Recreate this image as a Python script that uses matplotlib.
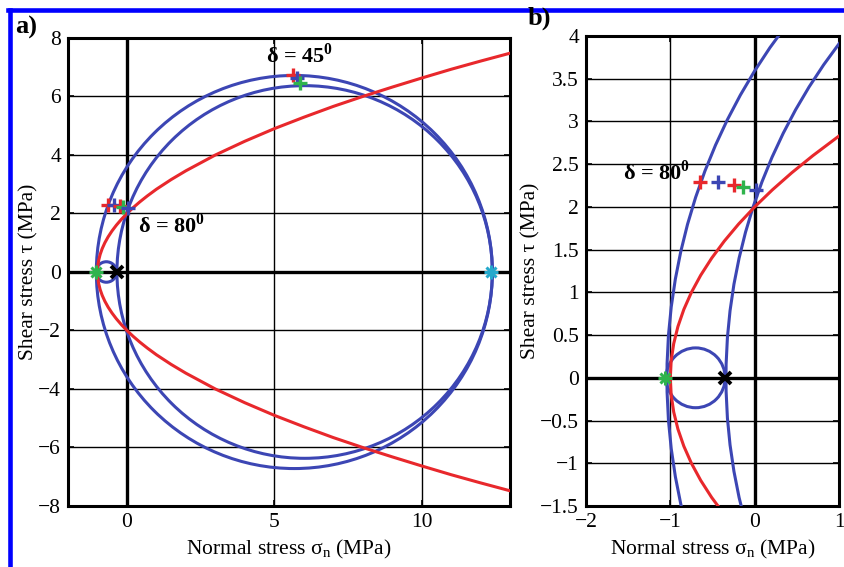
import matplotlib as mpl
mpl.use('Agg')
import matplotlib.pyplot as plt
from matplotlib.patches import Circle
from matplotlib.lines import Line2D

# style
mpl.rcParams['font.family'] = ['Liberation Serif', 'DejaVu Serif']
mpl.rcParams['mathtext.fontset'] = 'custom'
mpl.rcParams['mathtext.rm'] = 'Liberation Serif'
mpl.rcParams['mathtext.bf'] = 'Liberation Serif:bold'
mpl.rcParams['font.size'] = 15.5

BLUE = '#3c46b4'
RED = '#e8282c'
GREEN = '#2fb34c'
CYAN = '#25a9cc'

# Mohr circles, given by their end points on the sigma axis (MPa)
mohr_sigma3 = [-1.04, -0.34, -1.05]
mohr_sigma1 = [12.4, 12.4, -0.35]

# failure envelope (red curve)
env_sigma = [13, 12, 11, 10, 9, 8, 7, 6, 5, 4, 3, 2, 1.5, 1, 0.69, 0.44, 0.21, 0,
             -0.19, -0.36, -0.51, -0.64, -0.75, -0.84, -0.91, -0.96, -0.99, -1.0,
             -0.99, -0.96, -0.91, -0.84, -0.75, -0.64, -0.51, -0.36, -0.19,
             0, 0.21, 0.44, 0.69, 1, 1.5, 2, 3, 4, 5, 6, 7, 8, 9, 10, 11, 12, 13]
env_tau = [7.48, 7.21, 6.93, 6.63, 6.32, 6.0, 5.66, 5.29, 4.9, 4.47, 4.0, 3.46, 3.16, 2.83,
           2.6, 2.4, 2.2, 2.0, 1.8, 1.6, 1.4, 1.2, 1.0, 0.8, 0.6, 0.4, 0.2, 0.0,
           -0.2, -0.4, -0.6, -0.8, -1.0, -1.2, -1.4, -1.6, -1.8,
           -2.0, -2.2, -2.4, -2.6, -2.83, -3.16, -3.46, -4.0, -4.47, -4.9, -5.29,
           -5.66, -6.0, -6.32, -6.63, -6.93, -7.21, -7.48]

# plane markers
d45_sigma = [5.64, 5.77, 5.88]
d45_tau = [6.73, 6.62, 6.45]
d45_colors = [RED, BLUE, GREEN]
d80_sigma = [-0.65, -0.44, -0.24, -0.14, 0.02]
d80_tau = [2.29, 2.29, 2.26, 2.23, 2.20]
d80_colors = [RED, BLUE, RED, GREEN, BLUE]

# points on the sigma axis
green_pt = (-1.06, 0.0)
black_pt = (-0.35, 0.0)
cyan_pt = (12.35, 0.0)


def draw_panel(ax, xlim, ylim, xticks, yticks):
    ax.set_xlim(xlim)
    ax.set_ylim(ylim)
    ax.set_xticks(xticks)
    ax.set_yticks(yticks)
    ax.grid(True, color='k', lw=1.0)
    ax.axhline(0, color='k', lw=2.4, zorder=2)
    ax.axvline(0, color='k', lw=2.4, zorder=2)

    for s3, s1 in zip(mohr_sigma3, mohr_sigma1):
        ax.add_patch(Circle(((s1 + s3) / 2, 0), (s1 - s3) / 2, fill=False,
                            ec=BLUE, lw=2.2, zorder=3))
    ax.plot(env_sigma, env_tau, color=RED, lw=2.2, zorder=4)

    for s, t, c in zip(d45_sigma, d45_tau, d45_colors):
        ax.plot(s, t, '+', color=c, ms=9.5, mew=2.4, zorder=5)
    for s, t, c in zip(d80_sigma, d80_tau, d80_colors):
        ax.plot(s, t, '+', color=c, ms=9.5, mew=2.4, zorder=5)

    for pt, c in [(green_pt, GREEN), (cyan_pt, CYAN)]:
        ax.plot(*pt, '+', color=c, ms=9.5, mew=2.2, zorder=5)
        ax.plot(*pt, 'x', color=c, ms=7.5, mew=2.2, zorder=5)
    ax.plot(*black_pt, 'x', color='k', ms=8, mew=2.8, zorder=6)

    for sp in ax.spines.values():
        sp.set_linewidth(2.2)
    ax.tick_params(direction='in', top=True, right=True, length=4, width=1.2,
                   labelsize=15.5, pad=5)
    ax.set_xlabel('Normal stress σ$_\\mathrm{n}$ (MPa)', fontsize=15.5, labelpad=4)
    ax.set_ylabel('Shear stress τ (MPa)', fontsize=15.5, labelpad=0)


fig = plt.figure(figsize=(8.44, 5.67), dpi=100)
ax1 = fig.add_axes([0.0806, 0.1076, 0.5237, 0.8254])
ax2 = fig.add_axes([0.6943, 0.1076, 0.2998, 0.8289])

draw_panel(ax1, (-2, 13), (-8, 8), [0, 5, 10], list(range(-8, 9, 2)))
draw_panel(ax2, (-2, 1), (-1.5, 4), [-2, -1, 0, 1],
           [-1.5, -1, -0.5, 0, 0.5, 1, 1.5, 2, 2.5, 3, 3.5, 4])
ax2.set_yticklabels(['\u22121.5', '\u22121', '\u22120.5', '0', '0.5', '1', '1.5',
                     '2', '2.5', '3', '3.5', '4'])

ax1.text(4.72, 7.15, 'δ = 45$^\\mathbf{0}$', fontweight='bold', fontsize=16,
         ha='left', va='baseline', zorder=7)
ax1.text(0.37, 1.33, 'δ = 80$^\\mathbf{0}$', fontweight='bold', fontsize=16,
         ha='left', va='baseline', zorder=7)
ax2.text(-0.77, 2.32, 'δ = 80$^\\mathbf{0}$', fontweight='bold', fontsize=16,
         ha='right', va='baseline', zorder=7)

fig.text(26 / 844, 1 - 27 / 567, 'a)', fontweight='bold', fontsize=19,
         ha='center', va='center')
fig.text(539 / 844, 1 - 18 / 567, 'b)', fontweight='bold', fontsize=19,
         ha='center', va='center')

# blue frame around the figure
fig.add_artist(Line2D([10.3 / 844, 10.3 / 844], [0, 1 - 10.3 / 567],
                      transform=fig.transFigure, color='#0000ff', lw=3.3))
fig.add_artist(Line2D([8 / 844, 1], [1 - 10.3 / 567, 1 - 10.3 / 567],
                      transform=fig.transFigure, color='#0000ff', lw=3.3))

fig.savefig('out.png', dpi=100)
